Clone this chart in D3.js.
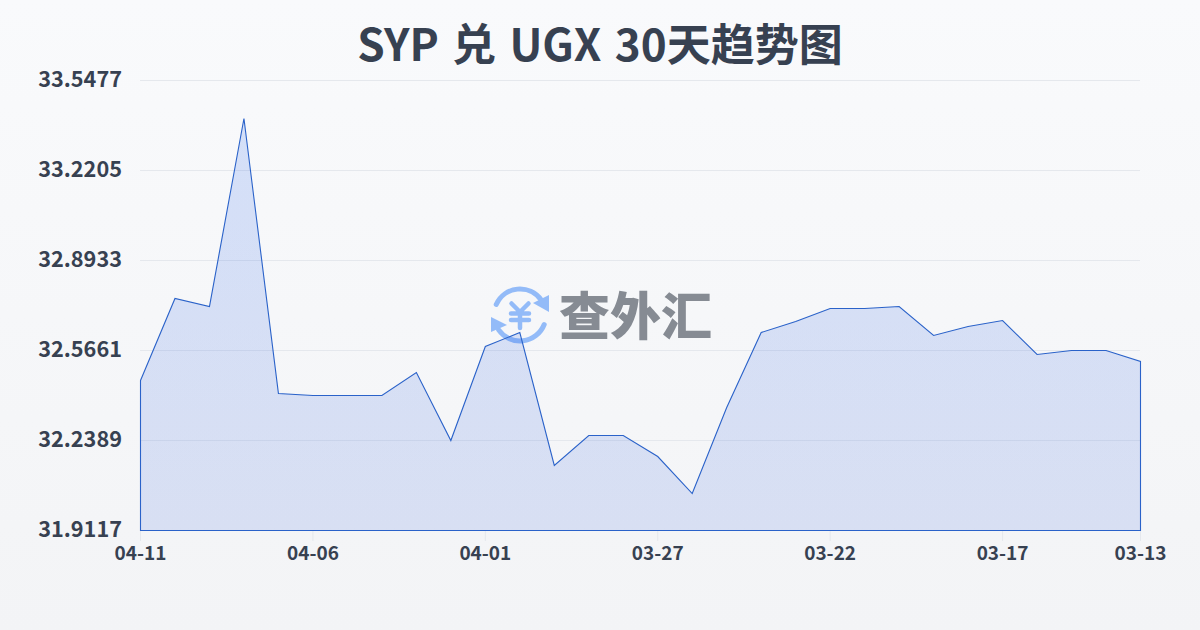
<!DOCTYPE html>
<html><head><meta charset="utf-8">
<script src="https://cdn.jsdelivr.net/npm/d3@7"></script>
<style>html,body{margin:0;padding:0;background:#f4f6f8}svg{display:block}text{font-family:"Noto Sans CJK SC",sans-serif}</style>
</head><body><svg id="c" width="1200" height="630"></svg>
<script>
const titleText="SYP 兑 UGX 30天趋势图";
const dates=["04-11","04-10","04-09","04-08","04-07","04-06","04-05","04-04","04-03","04-02","04-01","03-31","03-30","03-29","03-28","03-27","03-26","03-25","03-24","03-23","03-22","03-21","03-20","03-19","03-18","03-17","03-16","03-15","03-14","03-13"];
const values=[32.4570,32.7551,32.7261,33.4095,32.4098,32.4025,32.4025,32.4025,32.4861,32.2389,32.5806,32.6315,32.1480,32.2571,32.2571,32.1807,32.0462,32.3589,32.6315,32.6715,32.7188,32.7188,32.7261,32.6206,32.6533,32.6752,32.5515,32.5661,32.5661,32.5261];
const yTicks=[31.9117,32.2389,32.5661,32.8933,33.2205,33.5477];
const xTickLabels=["04-11","04-06","04-01","03-27","03-22","03-17","03-13"];
const logoText="查外汇";

const svg=d3.select("#c");
const defs=svg.append("defs");
const bg=defs.append("linearGradient").attr("id","bg").attr("x1",0).attr("y1",0).attr("x2",0).attr("y2",1);
bg.append("stop").attr("offset",0).attr("stop-color","#f9fafc");
bg.append("stop").attr("offset",1).attr("stop-color","#f3f4f6");
svg.append("rect").attr("width",1200).attr("height",630).attr("fill","url(#bg)");

const x=d3.scalePoint().domain(dates).range([140.5,1140.5]);
const y=d3.scaleLinear().domain([31.9117,33.5477]).range([530.5,80.5]);

svg.append("g").selectAll("line").data(yTicks).join("line")
 .attr("x1",140).attr("x2",1140).attr("y1",d=>y(d)).attr("y2",d=>y(d))
 .attr("stroke","#e5e8ed").attr("stroke-width",1);

svg.append("g").selectAll("text").data(yTicks).join("text")
 .attr("x",122).attr("y",d=>y(d)-3.5).attr("text-anchor","end").attr("dominant-baseline","central")
 .attr("font-size",21.7).attr("font-weight",700).attr("fill","#374151").text(d=>d.toFixed(4));

// logo
const blue="#93bbf8";
const lg=svg.append("g").attr("transform","translate(520,315)");
const arc=d3.arc().innerRadius(23.5).outerRadius(28.5).cornerRadius(2.5);
lg.append("path").attr("d",arc({startAngle:-1.25,endAngle:1.05})).attr("fill",blue);
lg.append("path").attr("d",arc({startAngle:1.85,endAngle:4.2})).attr("fill",blue);
lg.append("path").attr("d","M29,-20L29,-3L13,-12Z").attr("fill",blue);
lg.append("path").attr("d","M-29,2L-29,17L-13,10Z").attr("fill",blue);
lg.append("path").attr("d","M-8.5,-11.5L0,-3L8.5,-11.5M-9,-1.5H9M-9,5H9M0,-3V13")
 .attr("fill","none").attr("stroke",blue).attr("stroke-width",4.5).attr("stroke-linecap","round").attr("stroke-linejoin","round");
svg.append("text").attr("x",559).attr("y",335).attr("font-size",51).attr("font-weight",900)
 .attr("fill","#868b93").attr("textLength",153).text(logoText);

const fillG=defs.append("linearGradient").attr("id","af").attr("x1",0).attr("y1",0).attr("x2",0).attr("y2",1);
fillG.append("stop").attr("offset",0).attr("stop-color","#2563eb").attr("stop-opacity",.17);
fillG.append("stop").attr("offset",1).attr("stop-color","#1d4ed8").attr("stop-opacity",.13);
const area=d3.area().x(d=>x(d[0])).y0(y(31.9117)).y1(d=>y(d[1]));
const pts=dates.map((d,i)=>[d,values[i]]);
svg.append("path").attr("d",area(pts)).attr("fill","url(#af)")
 .attr("stroke","#2a62c9").attr("stroke-width",1.1).attr("stroke-linejoin","miter");

svg.append("g").selectAll("line").data(xTickLabels).join("line")
 .attr("x1",d=>x(d)).attr("x2",d=>x(d)).attr("y1",531).attr("y2",541)
 .attr("stroke","#e5e8ed");
svg.append("g").selectAll("text").data(xTickLabels).join("text")
 .attr("x",d=>x(d)).attr("y",560).attr("text-anchor","middle")
 .attr("font-size",19).attr("font-weight",700).attr("fill","#374151").text(d=>d);

svg.append("text").attr("x",600).attr("y",61).attr("text-anchor","middle").attr("word-spacing",3.3)
 .attr("font-size",44).attr("font-weight",700).attr("font-family","'Noto Sans','Noto Sans CJK SC'").attr("fill","#374151").text(titleText);
</script></body></html>
